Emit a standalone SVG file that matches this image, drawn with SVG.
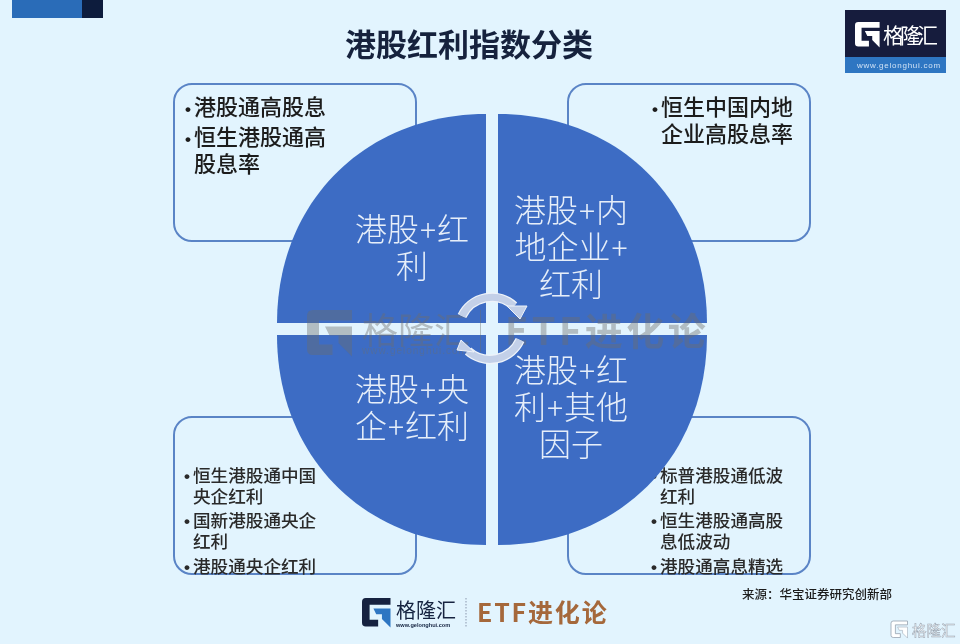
<svg xmlns="http://www.w3.org/2000/svg" width="960" height="644" viewBox="0 0 960 644">
<style>
text{font-family:"Noto Sans CJK SC","Liberation Sans",sans-serif}
.box{fill:none;stroke:#5a84c6;stroke-width:2}
.q{fill:#3c6cc4}
.c{fill:#e6eef9;font-size:32px;font-weight:300;text-anchor:middle}
.p{font-size:30px}
.b{fill:#1c1c1c;font-size:22px;font-weight:500}
.s{fill:#2a2a2a;font-size:17.6px;font-weight:500}
.d{font-family:"Liberation Sans",sans-serif;font-size:17px;font-weight:700}
.arc{fill:none;stroke:#c3d0e8;stroke-width:7}
.rim{fill:none;stroke:#eef3fa;stroke-width:9.5}
.head{fill:#c3d0e8;stroke:#eef3fa;stroke-width:1}
.wm{fill:#6e6e6e;opacity:.42}
.lat{font-family:"Liberation Sans",sans-serif}
</style>
<defs>
<filter id="soft" x="-2%" y="-2%" width="104%" height="104%"><feGaussianBlur stdDeviation="0.45"/></filter>
<path id="gc" d="M4 0H30V7H8V23H17V30H4Q0 30 0 26V4Q0 0 4 0Z"/>
<path id="ga" d="M12 11H30V31L21 22V17H15Z"/>
</defs>
<rect width="960" height="644" fill="#e2f4fe"/>
<g filter="url(#soft)">
<g id="corner"><rect x="12" y="0" width="70" height="18" fill="#2a6cb8"/><rect x="82" y="0" width="21" height="18" fill="#101a3c"/></g>
<text id="title" x="469" y="56" font-size="31" font-weight="700" fill="#14213d" text-anchor="middle">港股红利指数分类</text>
<g id="logo-top">
<rect x="845" y="10" width="101" height="47" fill="#121a3c"/><rect x="845" y="57" width="101" height="16" fill="#2f76c2"/>
<use href="#gc" transform="translate(855 22) scale(.82)" fill="#fff"/><use href="#ga" transform="translate(855 22) scale(.82)" fill="#fff"/>
<text x="883" y="43" font-size="21" fill="#fff" textLength="55">格隆汇</text>
<text class="lat" x="857" y="68" font-size="8" fill="#cfe2f5" letter-spacing=".75">www.gelonghui.com</text>
</g>
<g id="box-tl"><rect class="box" x="174" y="84" width="242" height="157" rx="18"/>
<text class="b" x="185" y="115"><tspan class="d">•</tspan><tspan x="194">港股通高股息</tspan></text>
<text class="b" x="185" y="145"><tspan class="d">•</tspan><tspan x="194">恒生港股通高</tspan><tspan x="194" y="172">股息率</tspan></text></g>
<g id="box-tr"><rect class="box" x="568" y="84" width="242" height="157" rx="18"/>
<text class="b" x="652" y="115"><tspan class="d">•</tspan><tspan x="661">恒生中国内地</tspan><tspan x="661" y="142">企业高股息率</tspan></text></g>
<g id="box-bl"><rect class="box" x="174" y="417" width="242" height="157" rx="18"/>
<text class="s" x="184" y="482"><tspan class="d">•</tspan><tspan x="193">恒生港股通中国</tspan><tspan x="193" y="503">央企红利</tspan></text>
<text class="s" x="184" y="527"><tspan class="d">•</tspan><tspan x="193">国新港股通央企</tspan><tspan x="193" y="548">红利</tspan></text>
<text class="s" x="184" y="573"><tspan class="d">•</tspan><tspan x="193">港股通央企红利</tspan></text></g>
<g id="box-br"><rect class="box" x="568" y="417" width="242" height="157" rx="18"/>
<text class="s" x="651" y="482"><tspan class="d">•</tspan><tspan x="660">标普港股通低波</tspan><tspan x="660" y="503">红利</tspan></text>
<text class="s" x="651" y="527"><tspan class="d">•</tspan><tspan x="660">恒生港股通高股</tspan><tspan x="660" y="548">息低波动</tspan></text>
<text class="s" x="651" y="573"><tspan class="d">•</tspan><tspan x="660">港股通高息精选</tspan></text></g>
<g id="q-tl"><path class="q" d="M486 323H277C277 202 365 114 486 114Z"/><text class="c" x="412" y="241">港股<tspan class="p" dx="1">+</tspan><tspan dx="1">红</tspan></text><text class="c" x="412" y="278">利</text></g>
<g id="q-tr"><path class="q" d="M498 323V114C619 114 707 202 707 323Z"/><text class="c" x="571" y="222">港股<tspan class="p" dx="1">+</tspan><tspan dx="1">内</tspan></text><text class="c" x="571" y="259">地企业<tspan class="p" dx="1">+</tspan></text><text class="c" x="571" y="296">红利</text></g>
<g id="q-bl"><path class="q" d="M486 335V545C365 545 277 457 277 335Z"/><text class="c" x="412" y="401">港股<tspan class="p" dx="1">+</tspan><tspan dx="1">央</tspan></text><text class="c" x="412" y="438">企<tspan class="p" dx="1">+</tspan><tspan dx="1">红利</tspan></text></g>
<g id="q-br"><path class="q" d="M498 335H707C707 457 619 545 498 545Z"/><text class="c" x="571" y="382">港股<tspan class="p" dx="1">+</tspan><tspan dx="1">红</tspan></text><text class="c" x="571" y="419">利<tspan class="p" dx="1">+</tspan><tspan dx="1">其他</tspan></text><text class="c" x="571" y="456">因子</text></g>
<g id="watermark">
<use class="wm" href="#gc" transform="translate(307 310) scale(1.5)"/><use class="wm" href="#ga" transform="translate(307 310) scale(1.5)"/>
<text class="wm" x="362" y="344" font-size="36">格隆汇</text>
<text class="wm lat" x="362" y="354" font-size="10" letter-spacing="1">www.gelonghui.com</text>
<rect class="wm" x="480" y="310" width="1" height="42"/>
<text class="wm" x="505" y="345" font-size="38" font-weight="700" letter-spacing="3.5">ETF进化论</text>
</g>
<g id="connectors">
<path class="rim" d="M462 316A33 33 0 0 1 514 306"/>
<path class="arc" d="M462 316A33 33 0 0 1 514 306"/>
<path class="head" d="M507 306L527 306L520 319Z"/>
<path class="rim" d="M520 340A33 33 0 0 1 468 351"/>
<path class="arc" d="M520 340A33 33 0 0 1 468 351"/>
<path class="head" d="M474 352L457 350L461 340Z"/>
</g>
<text id="source" x="742" y="599" font-size="12.5" font-weight="500" fill="#1c1c1c">来源：华宝证券研究创新部</text>
<g id="logo-bottom">
<use href="#gc" transform="translate(362 598) scale(.95)" fill="#142340"/><use href="#ga" transform="translate(362 598) scale(.95)" fill="#2f76c2"/>
<text x="396" y="618" font-size="20" fill="#142340" textLength="60">格隆汇</text>
<text class="lat" x="396" y="627" font-size="5.6" font-weight="700" fill="#142340">www.gelonghui.com</text>
<line x1="466" y1="598" x2="466" y2="628" stroke="#8a97ad" stroke-dasharray="1.5 1.5"/>
<text x="477" y="622" font-size="25" font-weight="700" fill="#a5673a" letter-spacing="1.8">ETF进化论</text>
</g>
<g id="logo-corner">
<use href="#gc" transform="translate(891 621) scale(.55)" fill="#fff" stroke="#9aa5b2" stroke-width="1.5"/>
<use href="#ga" transform="translate(891 621) scale(.55)" fill="#fff" stroke="#9aa5b2" stroke-width="1"/>
<text x="912" y="636" font-size="14.5" fill="#fff" stroke="#9aa5b2" stroke-width=".5">格隆汇</text>
</g>
</g>
</svg>
